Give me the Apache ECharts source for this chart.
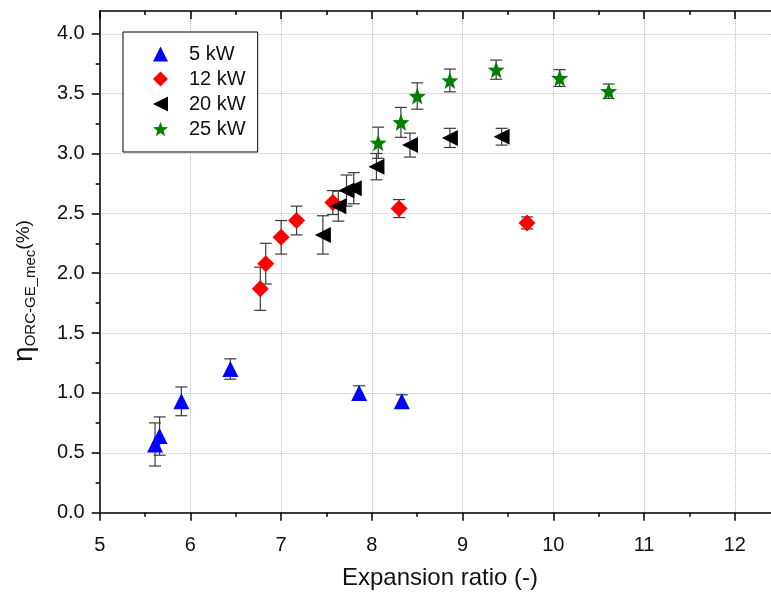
<!DOCTYPE html>
<html>
<head>
<meta charset="utf-8">
<script src="https://cdn.jsdelivr.net/npm/echarts@6/dist/echarts.min.js"></script>
<style>
html,body{margin:0;padding:0;background:#fff;}
#chart{width:771px;height:595px;}
</style>
</head>
<body>
<div id="chart"></div>
<script>
// ---- data ----
const seriesNames = ['5 kW', '12 kW', '20 kW', '25 kW'];

const x5  = [5.61, 5.66, 5.90, 6.44, 7.86, 8.33];
const y5  = [0.57, 0.64, 0.93, 1.20, 1.00, 0.93];
const e5  = [0.18, 0.16, 0.12, 0.085, 0.06, 0.055];

const x12 = [6.77, 6.83, 7.00, 7.17, 7.57, 8.30, 9.71];
const y12 = [1.87, 2.08, 2.30, 2.44, 2.59, 2.54, 2.42];
const e12 = [0.18, 0.17, 0.14, 0.12, 0.10, 0.075, 0.05];

const x20 = [7.46, 7.63, 7.72, 7.80, 8.05, 8.42, 8.86, 9.43];
const y20 = [2.32, 2.56, 2.69, 2.71, 2.89, 3.07, 3.13, 3.14];
const e20 = [0.16, 0.125, 0.13, 0.13, 0.11, 0.10, 0.08, 0.07];

const x25 = [8.07, 8.32, 8.50, 8.86, 9.37, 10.07, 10.61];
const y25 = [3.09, 3.26, 3.48, 3.61, 3.70, 3.63, 3.52];
const e25 = [0.13, 0.125, 0.11, 0.095, 0.08, 0.07, 0.06];

const yTickValues = [0, 0.5, 1.0, 1.5, 2.0, 2.5, 3.0, 3.5, 4.0];
const yMinorValues = [0.25, 0.75, 1.25, 1.75, 2.25, 2.75, 3.25, 3.75];

// ---- helpers ----
function zip3(xs, ys, es) { return xs.map((x, i) => [x, ys[i], es[i]]); }

function starPath() {
  const pts = [];
  for (let i = 0; i < 10; i++) {
    const r = i % 2 === 0 ? 50 : 21;
    const a = -Math.PI / 2 + i * Math.PI / 5;
    pts.push((50 + r * Math.cos(a)).toFixed(2) + ' ' + (50 + r * Math.sin(a)).toFixed(2));
  }
  return 'path://M' + pts.join(' L') + ' Z';
}
const STAR = starPath();
const LEFT_TRI = 'path://M0 50 L100 0 L100 100 Z';

const FONT = '"Liberation Sans", Arial, sans-serif';

function errSeries(data) {
  return {
    type: 'custom',
    xAxisIndex: 0, yAxisIndex: 0,
    z: 2,
    silent: true,
    data: data,
    encode: { x: 0, y: 1 },
    renderItem: function (params, api) {
      const x = api.value(0), y = api.value(1), e = api.value(2);
      const p1 = api.coord([x, y + e]);
      const p2 = api.coord([x, y - e]);
      const hw = 6;
      const st = { stroke: '#3a3a3a', lineWidth: 1.2 };
      return {
        type: 'group',
        children: [
          { type: 'line', shape: { x1: p1[0], y1: p1[1], x2: p2[0], y2: p2[1] }, style: st },
          { type: 'line', shape: { x1: p1[0] - hw, y1: p1[1], x2: p1[0] + hw, y2: p1[1] }, style: st },
          { type: 'line', shape: { x1: p2[0] - hw, y1: p2[1], x2: p2[0] + hw, y2: p2[1] }, style: st }
        ]
      };
    }
  };
}

function scatter(name, data, color, symbol, size) {
  return {
    name: name, type: 'scatter',
    xAxisIndex: 0, yAxisIndex: 0,
    z: 3,
    data: data.map(d => [d[0], d[1]]),
    symbol: symbol, symbolSize: size,
    itemStyle: { color: color, opacity: 1 },
    emphasis: { disabled: true }
  };
}

const d5 = zip3(x5, y5, e5);
const d12 = zip3(x12, y12, e12);
const d20 = zip3(x20, y20, e20);
const d25 = zip3(x25, y25, e25);

const chart = echarts.init(document.getElementById('chart'), null, { renderer: 'canvas', devicePixelRatio: 1 });

const axisLineStyle = { color: '#000', width: 1.5 };

const option = {
  animation: false,
  backgroundColor: '#fff',
  textStyle: { fontFamily: FONT },
  grid: { left: 99.7, top: 11, width: 725.8, height: 501.7, containLabel: false, outerBoundsMode: 'none' },
  legend: {
    data: [
      { name: '5 kW', icon: 'triangle' },
      { name: '12 kW', icon: 'diamond' },
      { name: '20 kW', icon: LEFT_TRI },
      { name: '25 kW', icon: STAR }
    ],
    orient: 'vertical',
    left: 123, top: 32,
    padding: [12, 12, 13, 30],
    itemGap: 5,
    itemWidth: 15, itemHeight: 15,
    backgroundColor: '#fff',
    borderColor: '#000', borderWidth: 1,
    textStyle: { fontSize: 20, color: '#111', fontFamily: FONT, padding: [0, 0, 0, 16] },
    selectedMode: false
  },
  xAxis: [
    {
      type: 'value', position: 'bottom', min: 5, max: 13, interval: 1,
      axisLine: { show: true, onZero: false, lineStyle: axisLineStyle },
      axisTick: { show: true, inside: false, length: 8, lineStyle: { color: '#000', width: 1.5 } },
      minorTick: { show: true, splitNumber: 2, length: 4, lineStyle: { color: '#000', width: 1.5 } },
      axisLabel: { fontSize: 20, color: '#111', margin: 23, fontFamily: FONT },
      splitLine: { show: true, lineStyle: { color: '#bdbdbd', type: 'dotted', width: 1 } },
      minorSplitLine: { show: false }
    },
    {
      type: 'value', position: 'top', min: 5, max: 13, interval: 1,
      axisLine: { show: true, onZero: false, lineStyle: axisLineStyle },
      axisTick: { show: true, inside: true, length: 8, lineStyle: { color: '#000', width: 1.5 } },
      minorTick: { show: true, splitNumber: 2, length: 4, lineStyle: { color: '#000', width: 1.5 } },
      axisLabel: { show: false },
      splitLine: { show: false }
    }
  ],
  yAxis: [
    {
      type: 'value', position: 'left', min: 0, max: 4.19, interval: 0.5,
      axisLine: { show: true, onZero: false, lineStyle: axisLineStyle },
      axisTick: { show: true, inside: false, length: 8, customValues: yTickValues, lineStyle: { color: '#000', width: 1.5 } },
      minorTick: { show: false },
      axisLabel: { fontSize: 20, color: '#111', margin: 15, fontFamily: FONT, customValues: yTickValues,
        formatter: v => v.toFixed(1) },
      splitLine: { show: true, lineStyle: { color: '#bdbdbd', type: 'dotted', width: 1 } }
    },
    {
      type: 'value', position: 'left', min: 0, max: 4.19, interval: 0.25,
      axisLine: { show: false },
      axisTick: { show: true, inside: false, length: 4, customValues: yMinorValues, lineStyle: { color: '#000', width: 1.5 } },
      axisLabel: { show: false },
      splitLine: { show: false }
    }
  ],
  graphic: [
    {
      type: 'text', x: 440, y: 578, z: 10,
      style: { text: 'Expansion ratio (-)', font: '24px ' + FONT, fill: '#111', align: 'center', verticalAlign: 'middle' }
    },
    {
      type: 'text', x: 24, y: 291, rotation: Math.PI / 2, z: 10,
      style: {
        text: '{a|η}{b|ORC-GE_mec}{c|(%)}',
        align: 'center', verticalAlign: 'middle', fill: '#111',
        rich: {
          a: { fontSize: 28, lineHeight: 28, verticalAlign: 'middle', fontFamily: FONT, fill: '#111' },
          b: { fontSize: 15, lineHeight: 15, verticalAlign: 'bottom', fontFamily: FONT, fill: '#111' },
          c: { fontSize: 19, lineHeight: 23, verticalAlign: 'top', padding: [4, 0, 0, 0], fontFamily: FONT, fill: '#111' }
        }
      }
    }
  ],
  series: [
    errSeries(d5), errSeries(d12), errSeries(d20), errSeries(d25),
    scatter('5 kW', d5, '#0000ff', 'triangle', 16),
    scatter('12 kW', d12, '#ff0000', 'diamond', 17),
    scatter('20 kW', d20, '#000000', LEFT_TRI, 16),
    scatter('25 kW', d25, '#008000', STAR, 17)
  ]
};

chart.setOption(option);
</script>
</body>
</html>
